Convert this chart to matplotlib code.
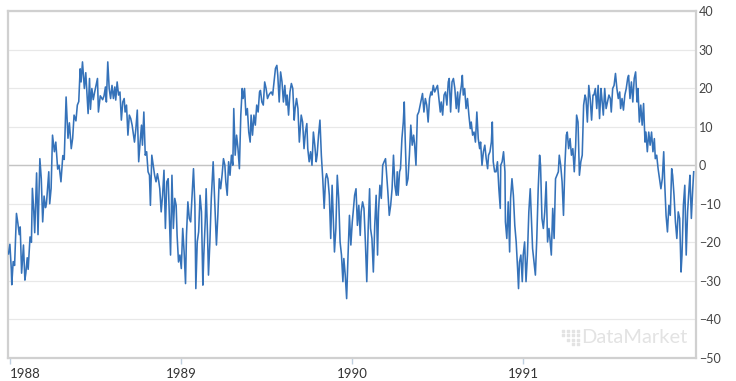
import numpy as np
import matplotlib
matplotlib.use("Agg")
import matplotlib.pyplot as plt

# days counted from 1988-01-01
day_offset = [
    -3, 0, 3, 4, 7, 10, 14, 17, 20, 22, 25, 29, 32, 34, 37, 39, 43, 46, 48, 51, 53,
    57, 60, 64, 67, 70, 73, 76, 78, 83, 85, 88, 91, 95, 98, 102, 105, 109, 113, 116,
    120, 124, 127, 131, 134, 137, 141, 144, 147, 150, 152, 155, 159, 162, 167, 170,
    172, 175, 178, 181, 184, 187, 189, 193, 198,
    201, 204, 206, 209, 212, 215, 218, 221, 224, 226, 229, 232, 235, 238, 241, 244,
    246, 249, 252, 255, 258, 261, 263, 266, 269, 272, 275, 278, 281, 283, 286, 289,
    292, 295, 298, 300, 303, 306, 309, 312, 315, 318, 320, 323, 326, 329, 332, 335,
    338, 340, 343, 346, 349, 352, 355, 357, 360, 363, 366, 369, 372, 375, 377, 380,
    383, 386, 389, 392, 395, 397, 400, 403, 406, 409, 412,
    414, 417, 419, 422, 424, 427, 430, 434, 437, 441, 444, 447, 450, 453, 456, 459,
    461, 464, 467, 470, 473, 476, 478, 481, 484, 487, 490, 493, 496, 498, 501, 504,
    507, 510, 513, 515, 518, 521, 524, 527, 530, 533, 535, 538, 541, 544, 547, 550,
    553, 555, 558, 561, 564, 567, 570, 572, 575, 578, 581, 584, 587, 590, 592, 595,
    598, 601, 604, 607, 609, 612, 615, 618,
    622, 625, 628, 631, 634, 636, 639, 642, 645, 648, 651, 654, 656, 659, 662, 665,
    668, 671, 674, 676, 679, 682, 685, 688, 691, 693, 696, 699, 702, 705, 708, 711,
    713, 716, 719, 722, 725, 728, 731, 733, 736, 739, 742, 745, 748, 750, 753, 756,
    759, 762, 765, 768, 770, 773, 776, 779, 782, 785, 787, 790, 793, 796, 799, 802,
    805, 807, 810, 813, 816, 819, 822, 825, 827,
    829, 832, 834, 837, 840, 842, 844, 847, 850, 853, 856, 859, 862, 864, 867, 870,
    873, 876, 879, 881, 884, 887, 890, 893, 896, 899, 901, 904, 907, 910, 913, 916,
    919, 921, 924, 927, 930, 933, 936, 938, 941, 944, 947, 950, 953, 956, 958, 961,
    964, 966, 968, 971, 974, 977, 980, 983, 985, 988, 991, 994, 997, 1000, 1003,
    1005, 1008, 1011, 1014, 1017, 1020, 1022, 1025, 1028, 1030, 1032, 1035,
    1038, 1041, 1044, 1047, 1048, 1051, 1054, 1057, 1058, 1061, 1064, 1067, 1069,
    1072, 1075, 1078, 1081, 1084, 1086, 1088, 1091, 1094, 1096, 1099, 1102, 1105,
    1108, 1111, 1114, 1116, 1119, 1122, 1125, 1128, 1131, 1133, 1136, 1139, 1142,
    1145, 1148, 1151, 1153, 1156, 1159, 1162, 1165, 1168, 1171, 1173, 1176, 1179,
    1182, 1185, 1188, 1190, 1193, 1196, 1199, 1202, 1205, 1208, 1210, 1213, 1216,
    1219, 1222, 1225, 1228, 1230, 1233, 1236, 1239, 1242, 1245,
    1247, 1250, 1253, 1256, 1259, 1262, 1264, 1267, 1270, 1273, 1276, 1279, 1282,
    1284, 1287, 1290, 1293, 1296, 1299, 1302, 1304, 1307, 1310, 1313, 1316, 1319,
    1321, 1324, 1327, 1330, 1333, 1336, 1339, 1341, 1344, 1347, 1350, 1353, 1356,
    1358, 1361, 1364, 1367, 1370, 1373, 1376, 1378, 1381, 1384, 1387, 1390, 1393,
    1396, 1398, 1401, 1404, 1407, 1410, 1413, 1415, 1418, 1421, 1424, 1427, 1430,
    1433, 1435, 1438, 1441, 1444, 1447, 1450, 1452, 1455, 1458, 1460,
]

temp = [
    -23, -20.5, -27, -31, -25, -26, -12.5, -15, -18, -16, -28, -20.7, -29.8, -28, -24,
    -27, -18.6, -20, -6, -12, -17.5, -2, -18, 1.7, -3.5, -14.7, -8, -11, -10, -1.7,
    -10, -6, 7.8, 3.5, 6, -1, 0, -4.3, 2.5, 1.5, 17.7, 7, 11, 4.3, 7, 13, 11.5, 15.6,
    16.5, 25, 21.6, 26.8, 19.9, 24, 13.4, 22.5, 14.5, 19.9, 17, 19, 20.8, 22.5, 13.8,
    18, 17,
    18, 20.3, 16.4, 26.8, 19.9, 17.3, 20.7, 17.3, 20.3, 16.9, 21.6, 18.2, 19, 11.7,
    16.4, 17.3, 13.8, 15.6, 7.8, 13, 12.1, 10.4, 8.6, 6, 9.5, 14.3, 0.9, 6, 10.4, 5.2,
    13.8, 2.6, 3.5, -1.7, -2.6, -10.4, 2.6, 0, -2.6, -4.3, -2.2, -4.3, -6.1, -12.1,
    -7.8, -1.3, -16.4, -4.3, -3.5, -11.2, -23.3, -2.6, -16.4, -8.6, -10.4, -18.2,
    -25.1, -23.3, -26.8, -16.4, -22.5, -30.7, -18.2, -9.5, -13.8, -14.7, -7.8, -0.9,
    -10.4, -32, -19.9, -17.3, -7.8, -12.1, -31.1,
    -23.3, -14.7, -6.1, -18.2, -28.5, -19.9, -8.6, 0.9, -8.6, -20.7, -13, -3.5, -6.1,
    -2.6, 1.7, 0, -4.3, -7.8, 0.9, -2.6, 2.6, 0, 14.7, 2.6, 7.8, 4.3, -0.9, 13, 19.9,
    17.3, 19.9, 13, 14.7, 8.6, 6, 13, 7.8, 13, 10.4, 15.6, 13.8, 19, 19.4, 16.4, 15.6,
    21.6, 19.9, 17.3, 18.2, 18.6, 19, 18.2, 21.6, 25.1, 25.9, 23.3, 16.4, 24.2, 21.6,
    16.4, 20.7, 15.6, 18.2, 13, 19, 21.2, 19.9, 11.7, 14.7, 17.3, 14.7, 6,
    13, 11.2, 4.3, 8.6, 10.8, 4.3, 0.9, 3.5, 0, 8.6, 5.2, 0.9, 2.6, 7.8, 11.7, 2.6,
    -3.5, -11.2, -3.5, -2.2, -3.5, -7.8, -19, -5.2, -15.6, -22.5, -16.4, -2.6, -8.6,
    -19.9, -23.3, -30.2, -24.2, -28.5, -34.6, -23.3, -13, -20.7, -14.7, -12.1, -7.8,
    -6.1, -15.6, -10.4, -18.2, -12.1, -9.5, -11.2, -19.9, -30.2, -16.4, -6.1, -16.4,
    -19, -27.7, -15.6, -7.8, -23.3, -12.1, -5.2, -8.6, 0, 0.9, 1.7, -3.5, -6.9, -13,
    -10.4, -6.1, 2.6, -5.2, -7.8, -1.7,
    -7.8, -1.7, -0.9, 6.9, 11.2, 16.4, 6.9, -5.2, -3.5, 2.6, 10.4, 5.2, 7.8, 5.6, 0,
    13, 13.8, 15.6, 17.3, 18.6, 13.8, 17.3, 15.6, 11.2, 17.3, 19, 18.2, 20.7, 19, 19.9,
    20.7, 17.3, 13.8, 16.4, 13, 18.2, 19, 15.6, 21.6, 22.5, 13.8, 21.6, 22.5, 19.9,
    14.7, 19, 13.8, 18.2, 20.7, 23.3, 18.2, 19.9, 14.7, 17.3, 13, 9.5, 11.2, 7.8, 8.6,
    6, 13.8, 6.9, 4.3, 6, 0, 3.5, 5.2, 1.7, -0.9, 2.6, 3.5, 6, 11.2, 0.9, -1.7,
    -1.7, 0.9, -6.1, -11.2, 0, 0.9, 3.5, -1.7, -14.7, -19, -9.5, -22.5, -8.6, -3.5,
    -7.8, -15.6, -19.9, -26.8, -32, -25.1, -23.3, -30.2, -23.3, -19.9, -30.2, -23.3,
    -12.1, -6.1, -15.6, -21.6, -25.1, -28.5, -19, -6.1, 2.6, 0, -13.8, -16.4, -12.1,
    -4.3, -19.9, -16.4, -19, -23.3, -11.2, -19, -3.5, -2.6, -1.7, 2.6, 0, -4.3, -13,
    0, 7.8, 8.6, 4.3, 6.9, 2.6, 4.3, -1.7, 5.2, 13, 11.2, -2.6, 0.9, 2.6, 15.6, 18.2,
    17.3, 11.2, 20.7, 17.3, 11.7, 18.2,
    18.2, 19.9, 14.7, 20.7, 12.1, 19.9, 17.3, 13, 19.9, 14.7, 16.4, 18.2, 17.3, 13.8,
    19.9, 20.7, 23.8, 19.9, 17.3, 19, 14.7, 17.3, 14.3, 18.2, 19.9, 22.5, 23.3, 17.3,
    21.6, 16.4, 22.5, 24.2, 16.4, 19.9, 11.2, 15.6, 10.4, 16, 6, 8.6, 3.5, 8.6, 5.2,
    8.6, 3.5, 6.9, 1.7, 2.6, -0.9, -3.5, -6.1, -3.5, 3.5, -4.3, -13, -17.3, -10.4, -13,
    -0.9, -2.6, -7.8, -14.7, -19, -12.1, -13.8, -27.7, -23.3, -10.4, -5.2, -23.3,
    -12.1, -6.1, -2.6, -13.8, -6.1, -1.7,
]

year_ticks = ["1988", "1989", "1990", "1991"]
y_ticks = [-50, -40, -30, -20, -10, 0, 10, 20, 30, 40]

start = np.datetime64("1988-01-01")
dates = start + np.array(day_offset).astype("timedelta64[D]")

plt.rcParams["font.family"] = ["Lato", "DejaVu Sans"]

fig = plt.figure(figsize=(7.36, 3.81), dpi=100)
ax = fig.add_axes([0.0109, 0.0604, 0.9348, 0.9107])

ax.plot(dates, temp, color="#3572b9", lw=1.15, zorder=3)

ax.set_ylim(-50, 40)
ax.set_xlim(start - np.timedelta64(4, "D"), start + np.timedelta64(1465, "D"))

ax.set_yticks(y_ticks)
ax.yaxis.tick_right()
ax.yaxis.grid(True, color="#e8e8e8", lw=0.9)
ax.axhline(0, color="#c4c4c4", lw=1.0, zorder=2)
ax.tick_params(axis="y", length=0, pad=2, labelsize=9, labelcolor="#444444")

ax.set_xticks([np.datetime64(y + "-01-01") for y in year_ticks])
ax.set_xticklabels(year_ticks)
ax.tick_params(axis="x", length=4, width=1, color="#c0d0e0", pad=3,
               labelsize=9.5, labelcolor="#333333")
ax.get_xticklabels()[0].set_ha("left")

for s in ax.spines.values():
    s.set_color("#d0d0d0")
    s.set_linewidth(1.6)

# watermark
ax.text(0.987, 0.06, "DataMarket", transform=ax.transAxes, ha="right", va="center",
        fontsize=14.5, color="#e3e3e3", zorder=1)
for i in range(4):
    for j in range(4):
        if i + j >= 2:
            ax.scatter(0.806 + j * 0.0075, 0.04 + i * 0.013, s=3, marker="s",
                       color="#e3e3e3", transform=ax.transAxes, zorder=1)

fig.savefig("out.png", dpi=100)
